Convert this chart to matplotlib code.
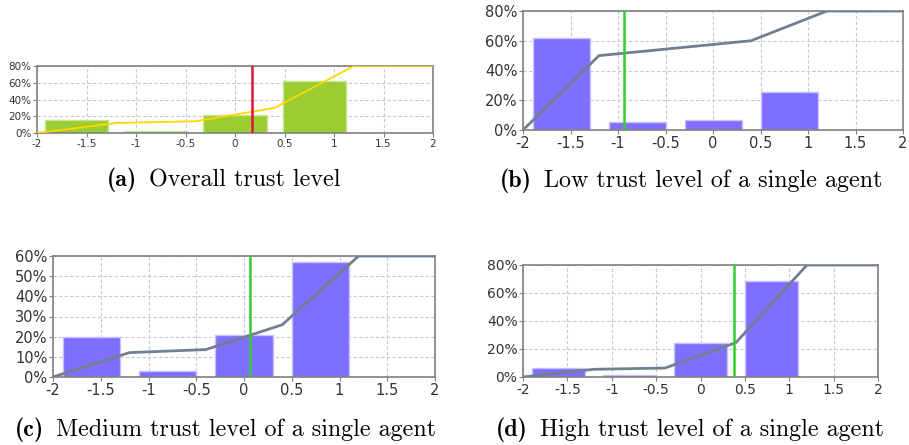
import matplotlib
matplotlib.use("Agg")
import matplotlib.pyplot as plt
from matplotlib.ticker import FuncFormatter, MultipleLocator

# bin centres of the histograms (bins of width 0.8 over [-2, 2])
bin_centers = [-1.6, -0.8, 0.0, 0.8, 1.6]
# points of the trend line
line_x = [-2.0, -1.2, -0.4, 0.4, 1.2, 2.0]

overall_bars = [15.5, 2.5, 21.0, 62.0, 0.3]
overall_line = [0, 12, 14, 30, 80, 80]
overall_mark = 0.175

low_bars = [62.0, 5.6, 6.5, 25.7, 0]
low_line = [0, 50, 55, 60, 80, 80]
low_mark = -0.94

medium_bars = [19.6, 2.8, 21.0, 57.0, 0]
medium_line = [0, 12.1, 13.6, 25.9, 60, 60]
medium_mark = 0.06

high_bars = [6.4, 1.2, 24.1, 68.8, 0]
high_line = [0, 5.5, 6.4, 24.6, 80, 80]
high_mark = 0.38

caption_tags = ["(a)", "(b)", "(c)", "(d)"]
caption_texts = ["Overall trust level",
                 "Low trust level of a single agent",
                 "Medium trust level of a single agent",
                 "High trust level of a single agent"]

W, H = 909, 445
fig = plt.figure(figsize=(W / 100, H / 100), dpi=100)


def px_axes(left, top, right, bottom):
    return fig.add_axes([left / W, (H - bottom) / H, (right - left) / W, (bottom - top) / H])


def panel(ax, bars, line, mark, ymax, ystep, bar_color, edge_color, line_color, mark_color,
          width, lw, fs):
    ax.bar(bin_centers, bars, width=width, color=bar_color, edgecolor=edge_color,
           linewidth=1, zorder=2)
    ax.plot(line_x, line, color=line_color, lw=lw, zorder=3)
    ax.axvline(mark, color=mark_color, lw=1.8, zorder=4)
    ax.set_xlim(-2, 2)
    ax.set_ylim(0, ymax)
    ax.xaxis.set_major_locator(MultipleLocator(0.5))
    ax.yaxis.set_major_locator(MultipleLocator(ystep))
    ax.xaxis.set_major_formatter(FuncFormatter(lambda v, p: "0" if abs(v) < 1e-9 else "%g" % v))
    ax.yaxis.set_major_formatter(FuncFormatter(lambda v, p: "%d%%" % round(v)))
    ax.grid(True, color="#c8c8c8", linestyle=(0, (3, 2)), lw=0.8, zorder=0)
    for s in ax.spines.values():
        s.set_color("#808080")
        s.set_linewidth(1.2)
    ax.tick_params(direction="out", length=3, width=0.8, color="#808080",
                   labelsize=fs, labelcolor="#333333", pad=1)


ax_a = px_axes(37, 66, 433, 133)
panel(ax_a, overall_bars, overall_line, overall_mark, 80, 20, "#9acd32", "#c8e68c",
      "#ffd700", "#dc143c", 0.64, 1.3, 7.5)
ax_b = px_axes(523, 11, 903, 130)
panel(ax_b, low_bars, low_line, low_mark, 80, 20, "#7f6fff", "#c8c0ff",
      "#708090", "#33cc33", 0.6, 2.0, 10.5)
ax_c = px_axes(53, 256, 435, 377)
panel(ax_c, medium_bars, medium_line, medium_mark, 60, 10, "#7f6fff", "#c8c0ff",
      "#708090", "#33cc33", 0.6, 2.0, 10.5)
ax_d = px_axes(523, 265, 878, 377)
panel(ax_d, high_bars, high_line, high_mark, 80, 20, "#7f6fff", "#c8c0ff",
      "#708090", "#33cc33", 0.6, 2.0, 10)

# captions: bold tag + regular text, centred together
r = fig.canvas.get_renderer()
centres = [(224, 180), (691, 181), (225, 430), (690, 430)]
gap = 12
for (cx, cy), tag, txt in zip(centres, caption_tags, caption_texts):
    t1 = fig.text(0, 1 - cy / H, tag, family="cmb10", fontsize=17.3, va="center")
    t2 = fig.text(0, 1 - cy / H, txt, family="cmr10", fontsize=17.3, va="center")
    w1 = t1.get_window_extent(r).width
    w2 = t2.get_window_extent(r).width
    x0 = cx - (w1 + gap + w2) / 2
    t1.set_x(x0 / W)
    t2.set_x((x0 + w1 + gap) / W)

fig.savefig("out.png", dpi=100)
